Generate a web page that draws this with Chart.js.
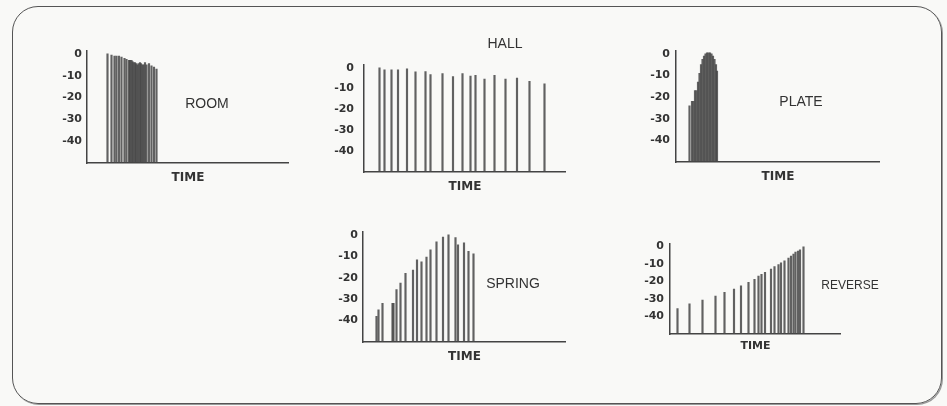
<!DOCTYPE html>
<html>
<head>
<meta charset="utf-8">
<script src="https://cdn.jsdelivr.net/npm/chart.js@4.4.1/dist/chart.umd.min.js"></script>
<style>
  html, body { margin: 0; padding: 0; background: #f9f9f7; }
  #page { position: relative; width: 947px; height: 406px; overflow: hidden; }
  #frame {
    position: absolute; left: 12px; top: 6px; width: 930px; height: 398px;
    box-sizing: border-box; border: 1.5px solid #555; border-radius: 26px;
    box-shadow: 1px 1px 0 #999;
  }
  canvas { position: absolute; }
  .name {
    position: absolute; transform: translate(-50%, -50%); white-space: nowrap;
    font-family: "Liberation Sans", Arial, sans-serif; font-size: 14px; color: #333;
  }
</style>
</head>
<body>
<div id="page">
  <div id="frame"></div>
  <canvas id="room"></canvas>
  <canvas id="hall"></canvas>
  <canvas id="plate"></canvas>
  <canvas id="spring"></canvas>
  <canvas id="reverse"></canvas>
  <div class="name" style="left:207px; top:103px;">ROOM</div>
  <div class="name" style="left:505px; top:43px;">HALL</div>
  <div class="name" style="left:801px; top:101px;">PLATE</div>
  <div class="name" style="left:513px; top:283px;">SPRING</div>
  <div class="name" style="left:850px; top:285px; font-size:12px;">REVERSE</div>
</div>
<script>
// level ticks (dB) and floor of every plot
const dbTicks = [0, -10, -20, -30, -40];
const dbFloor = -50;

// reflection times (ms) and levels (dB)
const roomTime = [41, 49, 55, 59, 64, 69, 75, 79, 84, 86, 89, 91, 93, 96, 98, 101, 103, 106, 108, 111, 113, 116, 119, 124, 129, 134, 139];
const roomLevel = [0, -0.5, -1, -1, -1, -1.5, -2, -2.5, -3, -3, -3, -3.5, -4, -4, -4.5, -5, -4.5, -4, -4.5, -5, -5, -4, -5, -4.5, -5.5, -6, -7];

const hallTime = [31, 41, 55, 68, 86, 103, 123, 133, 157, 178, 197, 213, 223, 241, 261, 283, 306, 331, 361];
const hallLevel = [0, -1, -1, -1, -0.5, -2, -1.8, -3.3, -2.8, -4.3, -2.8, -4, -3.7, -5.5, -3.7, -5.5, -5, -6.5, -7.7];

const plateTime = [27, 32, 35, 38, 41, 44, 47, 50, 53, 56, 59, 62, 65, 68, 71, 74, 77, 80, 82];
const plateLevel = [-24, -22, -22, -17, -17, -13, -9, -5, -2.5, -1, 0, 0.5, 0.5, 0.5, 0, -1, -2.5, -5, -8];

const springTime = [27, 31, 39, 59, 61, 67, 75, 85, 100, 108, 117, 127, 135, 147, 160, 171, 185, 190, 202, 211, 221];
const springLevel = [-38, -35, -32, -32, -32, -25.5, -22.5, -18, -16.5, -11.7, -12.6, -10.4, -7, -3.3, -1, 0, -1.3, -4.7, -3.7, -7.7, -8.9];

const reverseTime = [15, 39, 65, 91, 109, 128, 142, 157, 169, 177, 183, 190, 202, 209, 217, 222, 229, 237, 242, 247, 251, 256, 260, 267];
const reverseLevel = [-35.5, -32.8, -30.7, -28.4, -26.3, -24.4, -22.5, -20.5, -18.8, -17, -16, -14.9, -13, -11.6, -10.4, -9.5, -8.3, -6.8, -5.6, -4.5, -3.3, -2.8, -2.1, -0.4];

const inkColor = '#333';
const barColor = 'rgba(70, 70, 70, 0.85)';

// where each panel sits on the page
const panels = [
  { id: 'room', time: roomTime, level: roomLevel, tMax: 404, yMax: 1.5, left: 47, top: 39, w: 242, h: 150, xH: 26, tickPad: 5, titleSize: 12 },
  { id: 'hall', time: hallTime, level: hallLevel, tMax: 404, yMax: 1.5, left: 324, top: 48, w: 242, h: 150, xH: 26, tickPad: 10, titleSize: 12 },
  { id: 'plate', time: plateTime, level: plateLevel, tMax: 408, yMax: 1.5, left: 636, top: 38, w: 244, h: 150, xH: 26, tickPad: 6, titleSize: 12 },
  { id: 'spring', time: springTime, level: springLevel, tMax: 406, yMax: 1.5, left: 323, top: 220, w: 243, h: 148, xH: 26, tickPad: 5, titleSize: 12 },
  { id: 'reverse', time: reverseTime, level: reverseLevel, tMax: 342, yMax: 1.5, left: 630, top: 231, w: 211, h: 126, xH: 23, tickPad: 6, titleSize: 11 }
];

function drawPanel(p) {
  const canvas = document.getElementById(p.id);
  canvas.width = p.w;
  canvas.height = p.h;
  canvas.style.left = p.left + 'px';
  canvas.style.top = p.top + 'px';

  new Chart(canvas, {
    type: 'bar',
    data: {
      datasets: [{
        data: p.time.map((t, i) => ({ x: t, y: [dbFloor, p.level[i]] })),
        backgroundColor: barColor,
        borderWidth: 0,
        barThickness: 1.5
      }]
    },
    options: {
      responsive: false,
      animation: false,
      layout: { padding: { top: 8, left: 0, right: 0, bottom: 0 } },
      plugins: { legend: { display: false }, tooltip: { enabled: false } },
      scales: {
        x: {
          type: 'linear', min: 0, max: p.tMax, offset: false,
          grid: { display: false, drawTicks: false },
          border: { display: true, color: '#444', width: 1.5 },
          ticks: { display: false },
          title: {
            display: true, text: 'TIME', color: inkColor,
            font: { family: 'DejaVu Sans', size: p.titleSize, weight: 'bold' },
            padding: { top: 0, bottom: 4 }
          },
          afterFit: s => { s.height = p.xH; }
        },
        y: {
          min: dbFloor, max: p.yMax,
          grid: { display: false, drawTicks: false },
          border: { display: true, color: '#444', width: 1.5 },
          afterBuildTicks: s => { s.ticks = dbTicks.map(v => ({ value: v })); },
          ticks: {
            padding: p.tickPad, color: inkColor,
            font: { family: 'DejaVu Sans', size: 11, weight: 'bold' }
          },
          afterFit: s => { s.width = 40; }
        }
      }
    }
  });
}

panels.forEach(drawPanel);
</script>
</body>
</html>
